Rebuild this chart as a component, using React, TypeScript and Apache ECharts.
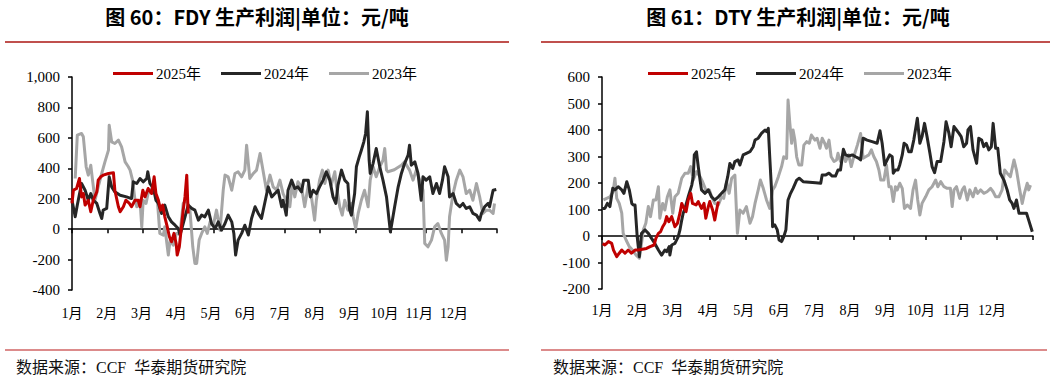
import React, { useEffect, useRef } from 'react';
import * as echarts from 'echarts';

const monthLabels = ['1月', '2月', '3月', '4月', '5月', '6月', '7月', '8月', '9月', '10月', '11月', '12月'];
const legendNames = ['2025年', '2024年', '2023年'];
const titles = ['图 60：FDY 生产利润|单位：元/吨', '图 61：DTY 生产利润|单位：元/吨'];
const sourceText = '数据来源：CCF  华泰期货研究院';

// [month position (0 = 1月初), 元/吨]
const fdy2025: [number, number][] = [[0,169],[0.04,256],[0.13,267],[0.21,333],[0.27,212],[0.32,234],[0.37,158],[0.46,190],[0.53,114],[0.60,190],[0.70,245],[0.74,322],[0.81,344],[0.88,355],[1.03,366],[1.17,370],[1.21,256],[1.31,147],[1.36,114],[1.45,147],[1.52,190],[1.62,169],[1.68,147],[1.78,190],[1.87,190],[1.92,147],[2.00,256],[2.06,212],[2.15,267],[2.25,234],[2.32,344],[2.37,234],[2.44,190],[2.50,125],[2.56,158],[2.62,81],[2.69,15],[2.75,-50],[2.81,-83],[2.88,-28],[2.94,-94],[2.97,-170],[3.03,-116],[3.10,37],[3.14,125],[3.19,212],[3.24,355],[3.28,103]];

const fdy2024: [number, number][] = [[0,190],[0.09,81],[0.15,158],[0.27,300],[0.37,256],[0.46,190],[0.53,234],[0.60,190],[0.70,169],[0.79,103],[0.84,70],[0.88,125],[0.98,136],[1.05,344],[1.12,278],[1.21,245],[1.36,223],[1.54,212],[1.68,201],[1.73,311],[1.83,300],[1.92,333],[2.01,311],[2.11,333],[2.14,377],[2.20,300],[2.30,267],[2.37,190],[2.44,169],[2.53,103],[2.62,158],[2.72,81],[2.81,48],[2.91,26],[3.00,4],[3.05,-39],[3.14,37],[3.28,158],[3.38,136],[3.47,125],[3.57,59],[3.66,92],[3.75,81],[3.85,125],[3.94,37],[4.04,4],[4.13,48],[4.22,-7],[4.32,37],[4.41,92],[4.51,48],[4.57,-28],[4.62,-170],[4.69,-72],[4.79,-28],[4.88,26],[4.98,-39],[5.07,70],[5.17,147],[5.26,103],[5.35,70],[5.45,180],[5.54,278],[5.64,212],[5.73,234],[5.82,256],[5.92,147],[5.96,190],[6.05,92],[6.10,256],[6.20,322],[6.29,267],[6.38,278],[6.48,245],[6.54,322],[6.67,322],[6.73,212],[6.81,256],[6.90,234],[6.99,278],[7.09,322],[7.18,377],[7.28,322],[7.37,212],[7.45,169],[7.51,289],[7.61,388],[7.70,322],[7.79,300],[7.84,125],[7.89,92],[7.98,234],[8.03,410],[8.11,475],[8.17,519],[8.24,574],[8.29,629],[8.34,771],[8.39,453],[8.42,366],[8.50,431],[8.59,530],[8.69,410],[8.78,322],[8.88,212],[8.99,-18],[9.11,147],[9.21,278],[9.30,366],[9.39,431],[9.49,486],[9.53,552],[9.58,420],[9.68,442],[9.77,366],[9.86,190],[9.91,344],[10.00,322],[10.10,344],[10.19,234],[10.29,300],[10.38,234],[10.46,322],[10.52,410],[10.62,344],[10.66,212],[10.76,234],[10.85,169],[10.95,147],[11.04,169],[11.13,136],[11.23,147],[11.32,103],[11.42,92],[11.51,59],[11.56,103],[11.65,147],[11.75,169],[11.79,147],[11.89,256],[11.98,261]];

const fdy2023: [number, number][] = [[0.09,333],[0.15,618],[0.27,629],[0.32,607],[0.40,410],[0.46,355],[0.53,420],[0.58,322],[0.65,190],[0.74,278],[0.84,366],[0.93,442],[1.03,519],[1.05,683],[1.12,574],[1.21,563],[1.31,585],[1.40,541],[1.50,442],[1.59,410],[1.64,388],[1.71,322],[1.78,190],[1.83,147],[1.92,190],[1.97,15],[2.01,190],[2.09,169],[2.15,234],[2.25,267],[2.34,234],[2.41,190],[2.48,-28],[2.58,-39],[2.62,15],[2.72,-170],[2.77,-72],[2.86,-105],[2.95,-28],[3.05,-28],[3.14,169],[3.24,190],[3.33,125],[3.41,-116],[3.47,-225],[3.52,-225],[3.59,-72],[3.66,-28],[3.75,15],[3.82,-28],[3.90,48],[3.99,26],[4.08,125],[4.18,-7],[4.27,256],[4.32,355],[4.41,344],[4.51,256],[4.60,366],[4.69,377],[4.79,344],[4.88,388],[4.93,552],[5.02,333],[5.12,366],[5.21,388],[5.31,497],[5.40,377],[5.49,256],[5.59,355],[5.68,278],[5.78,256],[5.87,322],[5.96,234],[6.05,190],[6.15,147],[6.22,300],[6.29,212],[6.38,311],[6.48,278],[6.57,147],[6.67,289],[6.76,212],[6.85,59],[6.90,190],[6.99,322],[7.07,388],[7.14,300],[7.23,388],[7.32,289],[7.42,377],[7.47,278],[7.56,147],[7.63,92],[7.70,190],[7.79,125],[7.89,169],[7.94,81],[8.01,4],[8.08,103],[8.17,190],[8.26,256],[8.36,147],[8.42,322],[8.50,410],[8.59,344],[8.69,410],[8.78,453],[8.83,530],[8.88,388],[8.92,377],[9.10,390],[9.30,420],[9.39,442],[9.53,388],[9.63,322],[9.72,388],[9.82,322],[9.91,256],[9.96,-94],[10.05,-116],[10.15,-72],[10.24,15],[10.33,37],[10.43,-28],[10.52,-72],[10.57,-204],[10.62,-116],[10.66,81],[10.76,234],[10.85,322],[10.95,388],[11.04,344],[11.13,234],[11.23,256],[11.32,190],[11.42,300],[11.51,212],[11.60,103],[11.70,125],[11.79,125],[11.89,103],[11.93,169]];

const dty2025: [number, number][] = [[0.02,-28],[0.08,-34],[0.18,-21],[0.27,-28],[0.32,-53],[0.41,-78],[0.48,-65],[0.55,-53],[0.64,-65],[0.73,-53],[0.82,-65],[0.92,-53],[1.01,-53],[1.24,-47],[1.34,-40],[1.45,-34],[1.50,-9],[1.57,10],[1.63,16],[1.69,35],[1.75,48],[1.80,73],[1.86,54],[1.94,73],[2.03,35],[2.10,48],[2.17,86],[2.22,123],[2.26,111],[2.34,92],[2.40,136],[2.47,161],[2.52,123],[2.62,117],[2.68,130],[2.77,104],[2.84,123],[2.89,67],[2.96,111],[3.00,130],[3.08,98],[3.14,60],[3.19,98],[3.24,130]];

const dty2024: [number, number][] = [[0,104],[0.08,104],[0.15,123],[0.22,111],[0.30,180],[0.36,174],[0.45,186],[0.55,174],[0.61,161],[0.69,205],[0.76,174],[0.83,123],[0.87,117],[0.92,117],[0.98,-3],[1.04,-78],[1.10,10],[1.20,23],[1.29,10],[1.38,-9],[1.47,-28],[1.57,-53],[1.66,-72],[1.75,-53],[1.80,-59],[1.87,-40],[1.89,-72],[1.94,-34],[2.03,-28],[2.12,-3],[2.17,23],[2.22,60],[2.26,86],[2.31,104],[2.40,148],[2.50,192],[2.54,224],[2.57,306],[2.63,318],[2.68,262],[2.73,211],[2.77,174],[2.87,161],[2.96,174],[3.05,148],[3.14,136],[3.24,148],[3.33,161],[3.42,174],[3.50,224],[3.56,274],[3.64,255],[3.70,281],[3.79,287],[3.84,268],[3.93,306],[4.02,312],[4.12,318],[4.21,337],[4.26,362],[4.35,369],[4.44,387],[4.54,400],[4.58,394],[4.63,406],[4.67,299],[4.72,174],[4.75,35],[4.81,42],[4.88,23],[4.93,-15],[5.00,-21],[5.06,-3],[5.12,23],[5.18,136],[5.25,161],[5.32,180],[5.42,211],[5.49,218],[5.60,205],[5.95,201],[6.09,199],[6.13,230],[6.22,230],[6.32,237],[6.41,226],[6.50,226],[6.57,249],[6.64,249],[6.72,327],[6.78,306],[6.87,302],[6.97,306],[7.06,299],[7.15,293],[7.20,287],[7.27,369],[7.38,362],[7.52,356],[7.66,350],[7.74,397],[7.80,350],[7.87,268],[7.94,287],[8.01,306],[8.08,299],[8.11,237],[8.17,249],[8.24,249],[8.29,268],[8.36,306],[8.41,350],[8.48,343],[8.54,318],[8.61,318],[8.68,362],[8.78,444],[8.85,350],[8.91,375],[8.98,425],[9.05,375],[9.13,312],[9.19,262],[9.26,239],[9.33,281],[9.43,281],[9.52,356],[9.58,431],[9.66,387],[9.72,337],[9.80,413],[9.87,400],[9.94,387],[10.00,375],[10.07,337],[10.15,350],[10.19,400],[10.26,413],[10.33,325],[10.43,274],[10.49,369],[10.57,362],[10.63,337],[10.70,350],[10.77,325],[10.84,337],[10.89,425],[10.96,331],[11.02,331],[11.09,237],[11.19,211],[11.28,174],[11.35,136],[11.42,123],[11.47,104],[11.54,136],[11.61,86],[11.70,86],[11.82,86],[11.88,60],[11.98,16]];

const dty2023: [number, number][] = [[0.04,136],[0.13,142],[0.22,148],[0.31,167],[0.36,218],[0.41,142],[0.48,123],[0.55,86],[0.59,10],[0.67,-15],[0.76,-40],[0.85,-53],[0.95,-72],[1.04,-84],[1.10,-28],[1.15,23],[1.22,48],[1.29,111],[1.35,73],[1.43,136],[1.50,136],[1.57,186],[1.61,67],[1.69,123],[1.75,98],[1.82,148],[1.89,174],[1.97,86],[2.03,148],[2.12,161],[2.22,218],[2.31,237],[2.40,237],[2.47,262],[2.54,211],[2.63,243],[2.73,224],[2.80,205],[2.89,174],[2.99,174],[3.05,148],[3.14,123],[3.24,117],[3.33,148],[3.39,142],[3.47,205],[3.54,161],[3.61,218],[3.70,230],[3.77,10],[3.84,98],[3.93,86],[4.02,111],[4.12,48],[4.19,73],[4.26,123],[4.35,174],[4.41,211],[4.49,180],[4.58,136],[4.67,104],[4.75,174],[4.81,186],[4.91,224],[5.00,262],[5.06,299],[5.14,293],[5.18,513],[5.23,425],[5.28,350],[5.32,400],[5.37,362],[5.42,299],[5.48,268],[5.56,268],[5.62,343],[5.70,356],[5.77,350],[5.83,381],[5.93,362],[5.99,369],[6.07,331],[6.13,369],[6.20,350],[6.25,331],[6.32,362],[6.38,299],[6.46,281],[6.53,287],[6.57,312],[6.64,281],[6.72,312],[6.78,281],[6.87,306],[6.94,262],[7.01,299],[7.11,343],[7.20,387],[7.27,293],[7.34,299],[7.43,306],[7.50,325],[7.57,299],[7.64,281],[7.71,249],[7.76,211],[7.85,211],[7.92,268],[7.99,186],[8.05,186],[8.11,130],[8.17,186],[8.22,174],[8.29,199],[8.36,180],[8.42,104],[8.50,117],[8.59,104],[8.66,174],[8.73,211],[8.79,136],[8.85,79],[8.91,123],[9.01,148],[9.10,174],[9.19,186],[9.29,211],[9.35,186],[9.43,205],[9.52,186],[9.61,180],[9.70,180],[9.75,111],[9.80,174],[9.87,186],[9.96,142],[10.03,174],[10.09,186],[10.17,136],[10.24,174],[10.33,148],[10.40,180],[10.46,161],[10.54,174],[10.63,161],[10.72,167],[10.82,180],[10.89,167],[10.96,148],[11.05,148],[11.14,174],[11.21,249],[11.28,237],[11.37,224],[11.47,287],[11.54,249],[11.63,174],[11.70,123],[11.76,161],[11.84,199],[11.88,174],[11.93,192]];

const SERIF = '"Liberation Serif", "Times New Roman", "Noto Sans CJK SC", serif';
const COLORS = ['#c00000', '#262626', '#a6a6a6'];

export default function App() {
  const ref = useRef<HTMLDivElement>(null);

  useEffect(() => {
    const chart = echarts.init(ref.current as HTMLDivElement, null, { renderer: 'svg' });

    const axisLineStyle = { color: '#000', width: 1.5 };
    const mainX = (gi: number) => ({
      type: 'value', gridIndex: gi, position: 'bottom', min: 0, max: 12, interval: 1,
      axisLine: { show: true, onZero: true, lineStyle: axisLineStyle },
      axisTick: { show: true, length: 4, lineStyle: axisLineStyle },
      axisLabel: { show: false }, splitLine: { show: false },
    });
    const labelX = (gi: number, max: number, margin: number) => ({
      type: 'value', gridIndex: gi, position: 'bottom', min: 0, max, interval: 1,
      axisLine: { show: false, onZero: false }, axisTick: { show: false }, splitLine: { show: false },
      axisLabel: {
        margin, color: '#000', fontSize: 14, fontFamily: SERIF,
        showMinLabel: true, showMaxLabel: false,
        formatter: (v: number) => {
          const r = Math.round(v);
          return Math.abs(v - r) < 1e-6 && r >= 0 && r < 12 ? monthLabels[r] : '';
        },
      },
    });
    const yAx = (gi: number, min: number, max: number, interval: number) => ({
      type: 'value', gridIndex: gi, min, max, interval,
      axisLine: { show: true, lineStyle: axisLineStyle },
      axisTick: { show: true, length: 4, lineStyle: axisLineStyle },
      splitLine: { show: false },
      axisLabel: {
        color: '#000', fontSize: 15, fontFamily: SERIF, margin: 12,
        formatter: (v: number) => v.toLocaleString('en-US'),
      },
    });

    const mk = (name: string, data: [number, number][], color: string, xi: number, yi: number) => ({
      type: 'line', name, data, xAxisIndex: xi, yAxisIndex: yi,
      showSymbol: false, symbol: 'none',
      lineStyle: { color, width: 3, join: 'round' }, itemStyle: { color },
    });

    const legendBase = {
      data: legendNames, icon: 'rect', itemWidth: 40, itemHeight: 3, itemGap: 20,
      selectedMode: false, top: 61,
      textStyle: { fontSize: 15, fontFamily: SERIF, color: '#000', padding: [0, 0, 0, -2] },
    };

    const titleStyle = (text: string) => ({
      text, fill: '#000', fontSize: 20, fontWeight: 'bold',
      fontFamily: '"Noto Sans CJK SC", sans-serif', align: 'center', verticalAlign: 'middle',
    });
    const footStyle = (text: string) => ({
      text, fill: '#111', fontSize: 16,
      fontFamily: '"Liberation Serif", "Noto Sans CJK SC", serif', verticalAlign: 'middle',
    });

    chart.setOption({
      animation: false,
      backgroundColor: '#fff',
      grid: [
        { left: 72, top: 77, width: 425, height: 213 },
        { left: 602, top: 77, width: 431, height: 212 },
      ],
      xAxis: [mainX(0), labelX(0, 12.24, 16), mainX(1), labelX(1, 12.16, 14)],
      yAxis: [yAx(0, -400, 1000, 200), yAx(1, -200, 600, 100)],
      legend: [
        { ...legendBase, left: 108 },
        { ...legendBase, left: 643 },
      ],
      series: [
        mk(legendNames[2], fdy2023, COLORS[2], 0, 0),
        mk(legendNames[1], fdy2024, COLORS[1], 0, 0),
        mk(legendNames[0], fdy2025, COLORS[0], 0, 0),
        mk(legendNames[2], dty2023, COLORS[2], 2, 1),
        mk(legendNames[1], dty2024, COLORS[1], 2, 1),
        mk(legendNames[0], dty2025, COLORS[0], 2, 1),
      ],
      graphic: [
        { type: 'text', x: 257, y: 16, style: titleStyle(titles[0]) },
        { type: 'text', x: 798, y: 16, style: titleStyle(titles[1]) },
        { type: 'line', shape: { x1: 5, y1: 42, x2: 509, y2: 42 }, style: { stroke: '#c0504d', lineWidth: 2 } },
        { type: 'line', shape: { x1: 541, y1: 42, x2: 1050, y2: 42 }, style: { stroke: '#c0504d', lineWidth: 2 } },
        { type: 'line', shape: { x1: 5, y1: 350, x2: 509, y2: 350 }, style: { stroke: '#d06464', lineWidth: 1.5 } },
        { type: 'line', shape: { x1: 541, y1: 350, x2: 1047, y2: 350 }, style: { stroke: '#d06464', lineWidth: 1.5 } },
        { type: 'text', x: 16, y: 367, style: footStyle(sourceText) },
        { type: 'text', x: 553, y: 367, style: footStyle(sourceText) },
      ],
    });

    return () => chart.dispose();
  }, []);

  return (
    <div
      ref={ref}
      style={{ position: 'absolute', left: 0, top: 0, width: 1057, height: 379, background: '#fff' }}
    />
  );
}
